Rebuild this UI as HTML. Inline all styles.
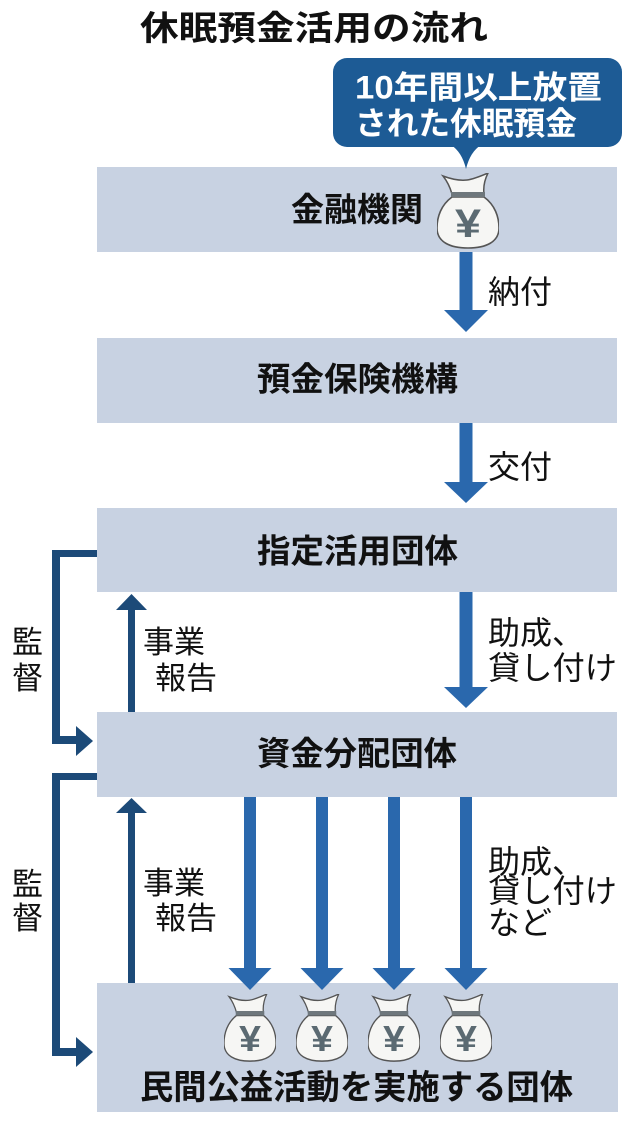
<!DOCTYPE html>
<html><head><meta charset="utf-8"><style>
html,body{margin:0;padding:0;background:#fff;}
svg{display:block;}
text{font-family:"Liberation Sans","Noto Sans CJK JP",sans-serif;}
</style></head><body>
<svg width="630" height="1121" viewBox="0 0 630 1121" xmlns="http://www.w3.org/2000/svg">
<defs>
<symbol id="bag" viewBox="0 0 62 76" preserveAspectRatio="none">
<path d="M15,21 C13,14 10,8 6,3 C14,6 22,8 30,7 C37,6 44,3 51,0 C48,6 46,13 47,21 Z" fill="#f6f6f4" stroke="#555" stroke-width="1.5"/>
<path d="M15,24 C4,32 0,44 0,55 C0,69 13,75 31,75 C49,75 62,69 62,55 C62,44 58,32 47,24 Z" fill="#f6f6f4" stroke="#555" stroke-width="1.6"/>
<rect x="14" y="19" width="34" height="5" fill="#6e777c"/>
<text x="18" y="64" font-size="40" font-weight="bold" fill="#5b6a72" textLength="26" lengthAdjust="spacingAndGlyphs">¥</text>
</symbol>
</defs>

<!-- Title -->
<text x="140" y="40" font-size="34" font-weight="bold" fill="#111" textLength="348" lengthAdjust="spacingAndGlyphs">休眠預金活用の流れ</text>

<!-- Boxes -->
<rect x="97" y="167" width="520" height="85" fill="#c8d2e2"/>
<rect x="97" y="338" width="520" height="85" fill="#c8d2e2"/>
<rect x="97" y="508" width="520" height="84" fill="#c8d2e2"/>
<rect x="97" y="712" width="520" height="85" fill="#c8d2e2"/>
<rect x="97" y="983" width="521" height="129" fill="#c8d2e2"/>

<!-- Callout -->
<rect x="333" y="58" width="289" height="89" rx="14" ry="14" fill="#1d5b95"/>
<path d="M451,145 L481,145 Q470,152 466,169 Q462,152 451,145 Z" fill="#1d5b95"/>
<text x="355" y="98.5" font-size="32" font-weight="bold" fill="#fff" textLength="247" lengthAdjust="spacingAndGlyphs">10年間以上放置</text>
<text x="355" y="134.5" font-size="32" font-weight="bold" fill="#fff" textLength="222" lengthAdjust="spacingAndGlyphs">された休眠預金</text>

<!-- Box texts -->
<text x="291" y="221" font-size="33" font-weight="bold" fill="#111" textLength="132" lengthAdjust="spacingAndGlyphs">金融機関</text>
<text x="257" y="390.5" font-size="33" font-weight="bold" fill="#111" textLength="201" lengthAdjust="spacingAndGlyphs">預金保険機構</text>
<text x="257" y="562.5" font-size="33" font-weight="bold" fill="#111" textLength="201" lengthAdjust="spacingAndGlyphs">指定活用団体</text>
<text x="257" y="765" font-size="33" font-weight="bold" fill="#111" textLength="200" lengthAdjust="spacingAndGlyphs">資金分配団体</text>
<text x="140" y="1099" font-size="34" font-weight="bold" fill="#111" textLength="433" lengthAdjust="spacingAndGlyphs">民間公益活動を実施する団体</text>

<!-- Bags -->
<use href="#bag" x="437" y="173" width="62" height="76"/>
<use href="#bag" x="224" y="994" width="52" height="68"/>
<use href="#bag" x="296" y="994" width="52" height="68"/>
<use href="#bag" x="368" y="994" width="52" height="68"/>
<use href="#bag" x="440" y="994" width="52" height="68"/>

<!-- Main blue arrows -->
<g fill="#2a68ad">
<rect x="459.5" y="252" width="13" height="60"/>
<polygon points="444,310 488,310 466,332"/>
<rect x="459.5" y="423" width="13" height="62"/>
<polygon points="444,482 488,482 466,503"/>
<rect x="459.5" y="592" width="13" height="97"/>
<polygon points="444,687 488,687 466,708"/>
<rect x="244" y="797" width="12" height="173"/>
<polygon points="228.5,968 271.5,968 250,990"/>
<rect x="316" y="797" width="12" height="173"/>
<polygon points="300.5,968 343.5,968 322,990"/>
<rect x="388" y="797" width="12" height="173"/>
<polygon points="372.5,968 415.5,968 394,990"/>
<rect x="460" y="797" width="12" height="173"/>
<polygon points="444.5,968 487.5,968 466,990"/>
</g>

<!-- Navy brackets and report arrows -->
<g fill="#1c4a78">
<rect x="52" y="550" width="45" height="7"/>
<rect x="52" y="550" width="8" height="194"/>
<rect x="52" y="736" width="26" height="8"/>
<polygon points="76,726 76,756 93,741"/>
<rect x="52" y="773" width="45" height="7"/>
<rect x="52" y="773" width="8" height="283"/>
<rect x="52" y="1048" width="26" height="8"/>
<polygon points="76,1037 76,1067 93,1052"/>
<rect x="128" y="608" width="7" height="104"/>
<polygon points="116,610 147,610 131.5,594"/>
<rect x="128" y="811" width="7" height="172"/>
<polygon points="116,813 147,813 131.5,798"/>
</g>

<!-- Right labels -->
<g font-size="32" fill="#111">
<text x="488" y="303">納付</text>
<text x="488" y="478">交付</text>
<text x="488" y="644">助成、</text>
<text x="488" y="679" textLength="129" lengthAdjust="spacingAndGlyphs">貸し付け</text>
<text x="488" y="873">助成、</text>
<text x="488" y="902" textLength="129" lengthAdjust="spacingAndGlyphs">貸し付け</text>
<text x="488" y="934">など</text>
</g>

<!-- Left labels -->
<g font-size="31" fill="#111">
<text x="143" y="653">事業</text>
<text x="155" y="689">報告</text>
<text x="12" y="653">監</text>
<text x="12" y="689">督</text>
<text x="143" y="894">事業</text>
<text x="155" y="929">報告</text>
<text x="12" y="895">監</text>
<text x="12" y="929">督</text>
</g>
</svg>
</body></html>
